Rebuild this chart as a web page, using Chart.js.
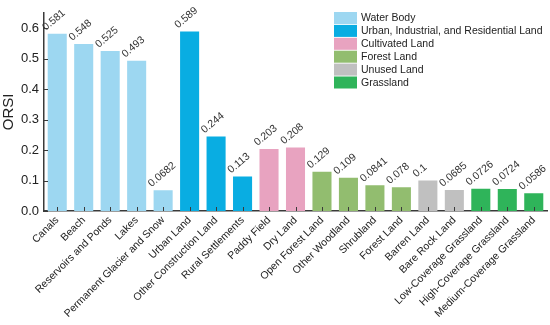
<!DOCTYPE html>
<html>
<head>
<meta charset="utf-8">
<script src="https://cdn.jsdelivr.net/npm/chart.js@4/dist/chart.umd.min.js"></script>
<style>
  html, body { margin: 0; padding: 0; background: #fff; }
  #wrap { width: 550px; height: 325px; }
</style>
</head>
<body>
<div id="wrap"><canvas id="orsiChart"></canvas></div>
<script>
const categories = ['Canals', 'Beach', 'Reservoirs and Ponds', 'Lakes', 'Permanent Glacier and Snow',
    'Urban Land', 'Other Construction Land', 'Rural Settlements', 'Paddy Field', 'Dry Land',
    'Open Forest Land', 'Other Woodland', 'Shrubland', 'Forest Land', 'Barren Land', 'Bare Rock Land',
    'Low-Coverage Grassland', 'High-Coverage Grassland', 'Medium-Coverage Grassland'];
const orsiValues = [0.581, 0.548, 0.525, 0.493, 0.0682, 0.589, 0.244, 0.113, 0.203, 0.208,
    0.129, 0.109, 0.0841, 0.078, 0.1, 0.0685, 0.0726, 0.0724, 0.0586];
const valueLabels = ['0.581', '0.548', '0.525', '0.493', '0.0682', '0.589', '0.244', '0.113', '0.203', '0.208',
    '0.129', '0.109', '0.0841', '0.078', '0.1', '0.0685', '0.0726', '0.0724', '0.0586'];
const groupOf = [0, 0, 0, 0, 0, 1, 1, 1, 2, 2, 3, 3, 3, 3, 4, 4, 5, 5, 5];
const groupNames = ['Water Body', 'Urban, Industrial, and Residential Land', 'Cultivated Land',
    'Forest Land', 'Unused Land', 'Grassland'];
const groupColors = ['#9dd7f1', '#09ade2', '#e8a3c0', '#92bd6f', '#c0c0c0', '#2fb45a'];
const yTicks = [0, 0.1, 0.2, 0.3, 0.4, 0.5, 0.6];

const axisColor = '#3a3a3a';
const font = 'Liberation Sans, Arial, sans-serif';

// value labels above bars, tilted
const barLabels = {
    id: 'barLabels',
    afterDatasetsDraw(chart) {
        const ctx = chart.ctx;
        const meta = chart.getDatasetMeta(0);
        ctx.save();
        ctx.font = '10.5px ' + font;
        ctx.fillStyle = '#333';
        ctx.textAlign = 'left';
        ctx.textBaseline = 'alphabetic';
        meta.data.forEach((bar, i) => {
            ctx.save();
            ctx.translate(bar.x - bar.width / 2 - 2, bar.y - 3);
            ctx.rotate(-40 * Math.PI / 180);
            ctx.fillText(valueLabels[i], 0, 0);
            ctx.restore();
        });
        ctx.restore();
    }
};

// short tick marks pointing into the plot
const innerTicks = {
    id: 'innerTicks',
    afterDraw(chart) {
        const ctx = chart.ctx;
        const x = chart.scales.x, y = chart.scales.y;
        ctx.save();
        ctx.strokeStyle = axisColor;
        ctx.lineWidth = 1;
        x.ticks.forEach((t, i) => {
            const px = Math.round(x.getPixelForTick(i)) + 0.5;
            ctx.beginPath();
            ctx.moveTo(px, x.top);
            ctx.lineTo(px, x.top - 4);
            ctx.stroke();
        });
        y.ticks.forEach((t, i) => {
            const py = Math.round(y.getPixelForTick(i)) + 0.5;
            ctx.beginPath();
            ctx.moveTo(y.right, py);
            ctx.lineTo(y.right + 4, py);
            ctx.stroke();
        });
        ctx.restore();
    }
};

// legend drawn inside the plot, top right
const boxLegend = {
    id: 'boxLegend',
    afterDraw(chart) {
        const ctx = chart.ctx;
        const left = 334, top = 12, boxW = 23, boxH = 12, pitch = 12.9;
        ctx.save();
        ctx.font = '10.5px ' + font;
        ctx.textAlign = 'left';
        ctx.textBaseline = 'middle';
        groupNames.forEach((name, i) => {
            const yy = top + i * pitch;
            ctx.fillStyle = groupColors[i];
            ctx.fillRect(left, yy, boxW, boxH);
            ctx.fillStyle = '#222';
            ctx.fillText(name, left + boxW + 4, yy + boxH / 2 + 0.5);
        });
        ctx.restore();
    }
};

new Chart(document.getElementById('orsiChart'), {
    type: 'bar',
    data: {
        labels: categories,
        datasets: [{
            label: 'ORSI',
            data: orsiValues,
            backgroundColor: groupOf.map(g => groupColors[g]),
            barPercentage: 0.9,
            categoryPercentage: 0.8
        }]
    },
    options: {
        responsive: true,
        maintainAspectRatio: false,
        animation: false,
        layout: { padding: { top: 11, right: 3, left: 0, bottom: 0 } },
        plugins: {
            legend: { display: false },
            tooltip: { enabled: false }
        },
        scales: {
            x: {
                grid: { display: false, drawTicks: false },
                border: { display: true, color: axisColor, width: 1.5 },
                ticks: {
                    color: '#222',
                    font: { family: font, size: 10.5 },
                    maxRotation: 45,
                    minRotation: 45,
                    autoSkip: false,
                    padding: 3
                },
                afterFit(scale) { scale.height = 114; }
            },
            y: {
                min: 0,
                max: 0.65,
                grid: { display: false, drawTicks: false },
                border: { display: true, color: axisColor, width: 1.5 },
                afterBuildTicks(scale) { scale.ticks = yTicks.map(v => ({ value: v })); },
                ticks: {
                    color: '#222',
                    font: { family: font, size: 13 },
                    padding: 5,
                    callback: v => v.toFixed(1)
                },
                title: {
                    display: true,
                    text: 'ORSI',
                    color: '#222',
                    font: { family: font, size: 15 },
                    padding: { top: 0, bottom: 2 }
                },
                afterFit(scale) { scale.width = 44; }
            }
        }
    },
    plugins: [barLabels, innerTicks, boxLegend]
});
</script>
</body>
</html>
